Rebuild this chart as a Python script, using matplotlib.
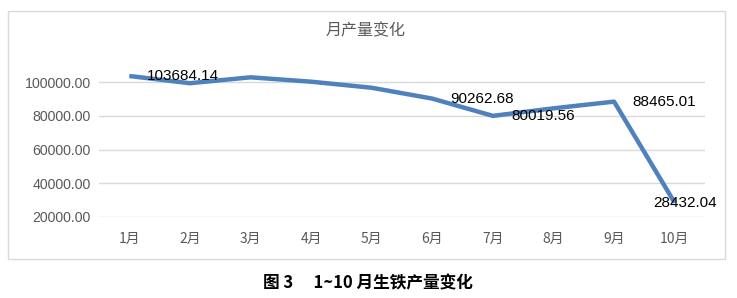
import matplotlib
matplotlib.use("Agg")
import matplotlib.pyplot as plt
from matplotlib.patches import Rectangle

plt.rcParams['font.family'] = ['Noto Sans CJK SC', 'DejaVu Sans']

months = ["1月", "2月", "3月", "4月", "5月", "6月", "7月", "8月", "9月", "10月"]
values = [103684.14, 99400, 102900, 100300, 96700, 90262.68, 80019.56, 84500, 88465.01, 28432.04]
labeled = {0: "103684.14", 5: "90262.68", 6: "80019.56", 8: "88465.01", 9: "28432.04"}
yticks = [20000, 40000, 60000, 80000, 100000]
title = "月产量变化"
caption = "图 3\u3000 1~10 月生铁产量变化"

fig = plt.figure(figsize=(7.37, 2.98), dpi=100)
W, H = 737, 298
# chart frame
fig.patches.append(Rectangle((8 / W, 1 - 259 / H), (725 - 8) / W, (259 - 10.5) / H,
                             transform=fig.transFigure, fill=False,
                             edgecolor="#D9D9D9", linewidth=1.0))

left, right, bottom = 99 / W, 705 / W, 1 - 217 / H
ymax = 110000
top_px = 217 - (ymax - 20000) / 20000 * 33.7
ax = fig.add_axes([left, bottom, right - left, (217 - top_px) / H])

x = list(range(len(months)))
ax.plot(x, values, color="#4F81BD", linewidth=3.2, solid_capstyle="butt", zorder=3)
ax.set_xlim(-0.5, len(months) - 0.5)
ax.set_ylim(20000, ymax)
ax.set_yticks(yticks)
ax.set_yticklabels([f"{v:.2f}" for v in yticks], fontsize=10.2, color="#595959",
                   family=["Liberation Sans"])
ax.set_xticks(x)
ax.set_xticklabels(months, fontsize=10, color="#595959")
ax.tick_params(length=0, pad=6)
ax.tick_params(axis="x", pad=11)
ax.grid(axis="y", color="#D9D9D9", linewidth=1.0)
ax.set_axisbelow(True)
for s in ax.spines.values():
    s.set_visible(False)

for i, lab in labeled.items():
    dx = -21 if i == 9 else 18
    ax.annotate(lab, (x[i], values[i]), xytext=(dx, 0), textcoords="offset pixels",
                ha="left", va="center", fontsize=11, color="#000000",
                family=["Liberation Sans"], zorder=4)

fig.text(366 / W, 1 - 31 / H, title, ha="center", va="center", fontsize=11.5, color="#595959")
fig.text(368 / W, 1 - 283 / H, caption, ha="center", va="center", fontsize=12,
         fontweight="bold", color="#000000")

fig.savefig("out.png", dpi=100)
